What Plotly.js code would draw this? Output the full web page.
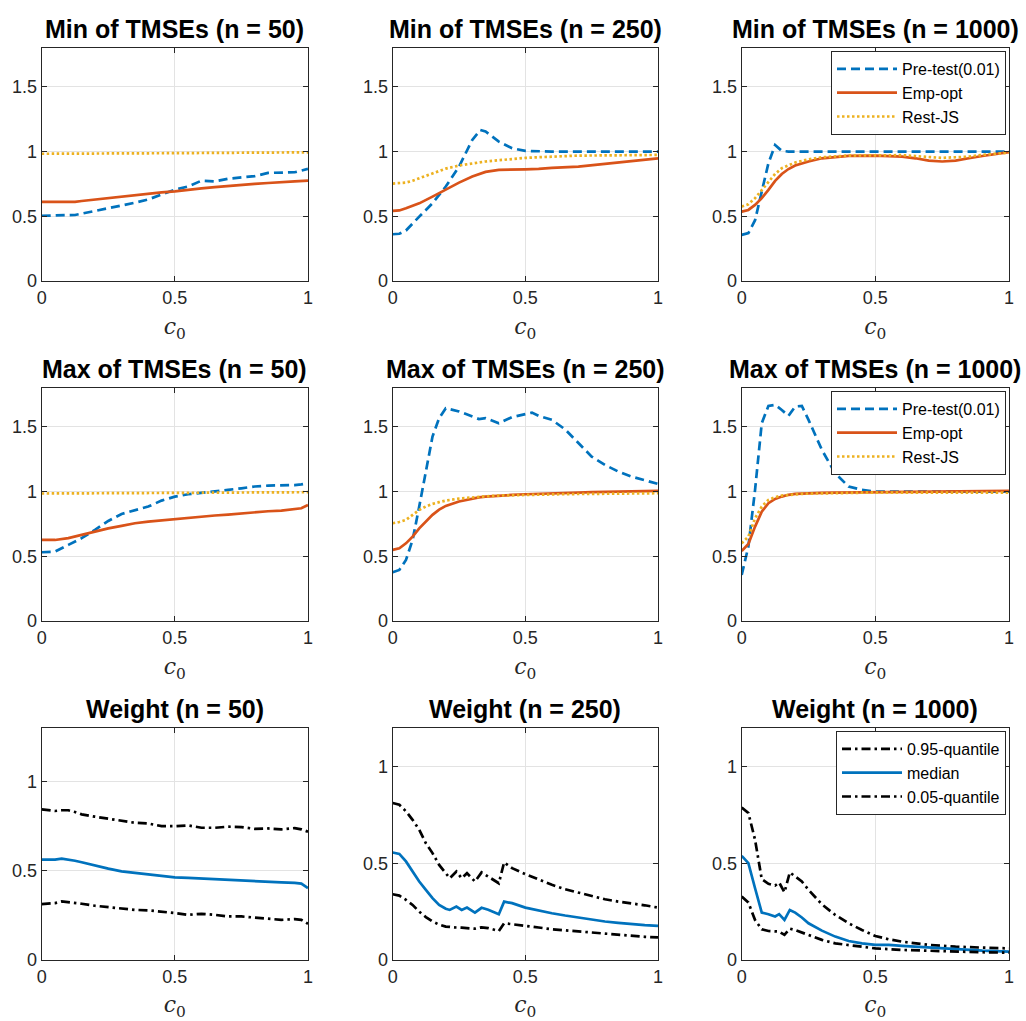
<!DOCTYPE html>
<html>
<head>
<meta charset="utf-8">
<script src="https://cdn.plot.ly/plotly-3.0.1.min.js"></script>
<style>html,body{margin:0;padding:0;background:#fff;}#chart{width:1026px;height:1021px;}</style>
</head>
<body>
<div id="chart"></div>
<script>
// ---------- Min of TMSEs ----------
const minN50_c0 = [0,0.05,0.1,0.125,0.15,0.2,0.25,0.3,0.35,0.4,0.45,0.5,0.55,0.6,0.65,0.7,0.75,0.8,0.85,0.9,0.95,1];
const minN50_pretest = [0.504,0.505,0.508,0.51,0.52,0.54,0.563,0.585,0.605,0.63,0.667,0.705,0.73,0.775,0.77,0.79,0.80,0.81,0.835,0.84,0.84,0.866];
const minN50_empopt = [0.612,0.612,0.612,0.612,0.618,0.63,0.641,0.652,0.665,0.678,0.685,0.692,0.705,0.715,0.725,0.735,0.744,0.75,0.757,0.765,0.77,0.775];
const minN50_restjs = [0.983,0.983,0.984,0.984,0.984,0.985,0.985,0.986,0.986,0.987,0.987,0.988,0.988,0.989,0.989,0.990,0.990,0.991,0.992,0.992,0.993,0.994];

const minN250_c0 = [0,0.025,0.05,0.075,0.1,0.15,0.2,0.25,0.3,0.33,0.35,0.4,0.45,0.5,0.55,0.6,0.7,0.8,0.9,1];
const minN250_pretest = [0.361,0.365,0.39,0.44,0.497,0.60,0.73,0.884,1.09,1.167,1.155,1.077,1.026,1.005,1.0,1.0,1.0,1.0,1.0,1.0];
const minN250_empopt = [0.541,0.545,0.562,0.58,0.60,0.652,0.709,0.76,0.807,0.83,0.843,0.858,0.863,0.863,0.866,0.874,0.884,0.905,0.93,0.948];
const minN250_restjs = [0.753,0.755,0.76,0.775,0.794,0.832,0.868,0.892,0.91,0.918,0.923,0.933,0.943,0.951,0.956,0.961,0.969,0.97,0.972,0.974];

const minN1000_c0 = [0,0.025,0.05,0.075,0.1,0.125,0.15,0.175,0.2,0.25,0.3,0.4,0.5,0.6,0.65,0.7,0.75,0.8,0.85,0.9,1];
const minN1000_pretest = [0.356,0.37,0.47,0.68,0.91,1.05,1.005,1.0,1.0,1.0,1.0,1.0,1.0,1.0,1.0,1.0,1.0,1.0,1.0,1.0,1.0];
const minN1000_empopt = [0.536,0.549,0.588,0.64,0.704,0.773,0.827,0.865,0.892,0.923,0.948,0.966,0.969,0.961,0.948,0.93,0.923,0.93,0.948,0.966,0.995];
const minN1000_restjs = [0.575,0.593,0.64,0.704,0.768,0.827,0.871,0.895,0.915,0.94,0.956,0.969,0.972,0.972,0.965,0.956,0.951,0.956,0.961,0.974,0.992];

// ---------- Max of TMSEs ----------
const maxN50_c0 = [0,0.05,0.1,0.15,0.2,0.25,0.3,0.35,0.4,0.45,0.5,0.55,0.6,0.65,0.7,0.75,0.8,0.85,0.9,0.95,0.975,1];
const maxN50_pretest = [0.531,0.536,0.588,0.64,0.704,0.773,0.827,0.858,0.884,0.93,0.961,0.979,0.992,1.0,1.013,1.025,1.039,1.046,1.046,1.05,1.055,1.064];
const maxN50_empopt = [0.626,0.626,0.64,0.665,0.69,0.716,0.735,0.755,0.768,0.778,0.789,0.798,0.807,0.815,0.822,0.832,0.843,0.848,0.853,0.866,0.871,0.897];
const maxN50_restjs = [0.985,0.985,0.986,0.986,0.987,0.987,0.988,0.988,0.989,0.989,0.990,0.990,0.991,0.991,0.992,0.992,0.993,0.993,0.994,0.994,0.995,0.995];

const maxN250_c0 = [0,0.025,0.05,0.075,0.1,0.125,0.15,0.175,0.2,0.25,0.3,0.325,0.35,0.4,0.45,0.5,0.525,0.55,0.6,0.65,0.7,0.75,0.8,0.85,0.9,0.95,1];
const maxN250_pretest = [0.376,0.394,0.472,0.626,0.884,1.14,1.425,1.567,1.644,1.619,1.58,1.56,1.567,1.528,1.575,1.60,1.61,1.585,1.554,1.48,1.374,1.27,1.206,1.155,1.116,1.09,1.059];
const maxN250_empopt = [0.549,0.562,0.60,0.652,0.716,0.77,0.82,0.86,0.889,0.923,0.948,0.955,0.961,0.969,0.974,0.979,0.98,0.982,0.985,0.988,0.992,0.995,0.997,0.998,1.0,1.002,1.005];
const maxN250_restjs = [0.755,0.765,0.781,0.82,0.858,0.885,0.905,0.918,0.93,0.946,0.956,0.96,0.963,0.969,0.972,0.974,0.975,0.976,0.979,0.98,0.981,0.982,0.982,0.983,0.984,0.985,0.987];

const maxN1000_c0 = [0,0.025,0.05,0.075,0.1,0.125,0.15,0.175,0.2,0.225,0.25,0.3,0.35,0.4,0.45,0.5,0.6,0.7,0.8,0.9,1];
const maxN1000_pretest = [0.356,0.575,1.013,1.528,1.662,1.67,1.63,1.585,1.657,1.662,1.554,1.322,1.14,1.039,1.013,1.0,1.0,1.0,1.0,1.0,1.0];
const maxN1000_empopt = [0.541,0.595,0.729,0.845,0.91,0.943,0.961,0.975,0.982,0.985,0.987,0.99,0.992,0.993,0.994,0.995,0.997,0.998,1.0,1.002,1.005];
const maxN1000_restjs = [0.60,0.652,0.794,0.884,0.936,0.956,0.969,0.975,0.979,0.982,0.984,0.987,0.989,0.99,0.991,0.992,0.992,0.992,0.992,0.992,0.992];

// ---------- Weight ----------
const wN50_c0 = [0,0.05,0.075,0.1,0.125,0.15,0.2,0.25,0.3,0.35,0.4,0.45,0.5,0.55,0.6,0.65,0.7,0.75,0.8,0.85,0.9,0.95,0.975,1];
const wN50_q95 = [0.844,0.835,0.839,0.839,0.829,0.816,0.803,0.792,0.784,0.769,0.765,0.75,0.75,0.754,0.741,0.741,0.747,0.745,0.735,0.737,0.732,0.739,0.732,0.719];
const wN50_median = [0.563,0.563,0.568,0.563,0.556,0.548,0.529,0.512,0.497,0.488,0.478,0.469,0.463,0.46,0.456,0.452,0.447,0.445,0.441,0.437,0.435,0.432,0.428,0.403];
const wN50_q05 = [0.313,0.319,0.328,0.325,0.32,0.315,0.304,0.296,0.287,0.281,0.278,0.272,0.263,0.253,0.259,0.253,0.244,0.244,0.238,0.231,0.225,0.229,0.225,0.203];

const wN250_c0 = [0,0.025,0.05,0.075,0.1,0.125,0.15,0.175,0.2,0.215,0.24,0.26,0.28,0.31,0.335,0.36,0.4,0.42,0.45,0.5,0.55,0.6,0.65,0.7,0.75,0.8,0.85,0.9,0.95,1];
const wN250_q95 = [0.812,0.803,0.769,0.725,0.674,0.604,0.553,0.492,0.449,0.423,0.458,0.423,0.449,0.406,0.453,0.432,0.397,0.505,0.475,0.444,0.415,0.389,0.366,0.349,0.332,0.314,0.302,0.294,0.283,0.271];
const wN250_median = [0.556,0.549,0.51,0.458,0.406,0.363,0.32,0.285,0.265,0.259,0.276,0.259,0.271,0.245,0.27,0.26,0.237,0.302,0.294,0.271,0.255,0.242,0.23,0.219,0.209,0.199,0.192,0.185,0.18,0.176];
const wN250_q05 = [0.34,0.333,0.311,0.285,0.25,0.222,0.199,0.183,0.173,0.17,0.168,0.167,0.166,0.162,0.169,0.165,0.15,0.19,0.185,0.178,0.168,0.159,0.153,0.147,0.141,0.135,0.13,0.124,0.12,0.117];

const wN1000_c0 = [0,0.025,0.05,0.075,0.1,0.125,0.14,0.16,0.18,0.2,0.225,0.25,0.3,0.35,0.4,0.45,0.5,0.55,0.6,0.7,0.8,0.9,1];
const wN1000_q95 = [0.789,0.76,0.622,0.418,0.394,0.385,0.401,0.35,0.453,0.43,0.406,0.363,0.288,0.233,0.19,0.155,0.124,0.107,0.095,0.078,0.069,0.064,0.06];
const wN1000_median = [0.539,0.501,0.371,0.245,0.237,0.225,0.237,0.207,0.259,0.245,0.22,0.19,0.152,0.121,0.098,0.086,0.078,0.078,0.073,0.064,0.055,0.048,0.043];
const wN1000_q05 = [0.328,0.297,0.207,0.159,0.15,0.148,0.147,0.13,0.162,0.155,0.143,0.13,0.104,0.086,0.078,0.07,0.06,0.056,0.052,0.048,0.043,0.04,0.038];

// ---------- labels ----------
const panelTitles = [
  'Min of TMSEs (n = 50)','Min of TMSEs (n = 250)','Min of TMSEs (n = 1000)',
  'Max of TMSEs (n = 50)','Max of TMSEs (n = 250)','Max of TMSEs (n = 1000)',
  'Weight (n = 50)','Weight (n = 250)','Weight (n = 1000)'];
const tmseNames = ['Pre-test(0.01)','Emp-opt','Rest-JS'];
const weightNames = ['0.95-quantile','median','0.05-quantile'];
const xTicks = [0,0.5,1];
const xTickText = ['0','0.5','1'];
const yTicksTmse = [0,0.5,1,1.5];
const yTickTextTmse = ['0','0.5','1','1.5'];
const yTicksWeight = [0,0.5,1];
const yTickTextWeight = ['0','0.5','1'];
const yRanges = [[0,1.8],[0,1.8],[0,1.8],[0,1.8],[0,1.8],[0,1.8],[0,1.3],[0,1.2],[0,1.2]];

// ---------- styling ----------
const W = 1026, H = 1021;
const colPx = [[41.7,308],[392.7,658],[741.7,1009]];
const rowPx = [[48,281],[388,621],[728,960]];
const blue = '#0072BD', orange = '#D95319', yellow = '#EDB120';
const axisColor = '#262626';
const LW = 2.7;

const tmsePanels = [
  [minN50_c0, minN50_pretest, minN50_empopt, minN50_restjs],
  [minN250_c0, minN250_pretest, minN250_empopt, minN250_restjs],
  [minN1000_c0, minN1000_pretest, minN1000_empopt, minN1000_restjs],
  [maxN50_c0, maxN50_pretest, maxN50_empopt, maxN50_restjs],
  [maxN250_c0, maxN250_pretest, maxN250_empopt, maxN250_restjs],
  [maxN1000_c0, maxN1000_pretest, maxN1000_empopt, maxN1000_restjs]
];
const weightPanels = [
  [wN50_c0, wN50_q95, wN50_median, wN50_q05],
  [wN250_c0, wN250_q95, wN250_median, wN250_q05],
  [wN1000_c0, wN1000_q95, wN1000_median, wN1000_q05]
];

const traces = [];
const layout = {
  width: W, height: H,
  margin: {l:0, r:0, t:0, b:0},
  paper_bgcolor: '#ffffff', plot_bgcolor: '#ffffff',
  font: {family: 'Liberation Sans, Arial, sans-serif', color: axisColor, size: 18},
  showlegend: true,
  annotations: []
};

function axisId(i){ return i === 0 ? '' : String(i+1); }

for (let i = 0; i < 9; i++) {
  const r = Math.floor(i/3), c = i % 3;
  const id = axisId(i);
  const xa = 'x' + id, ya = 'y' + id;
  const common = {
    showline: true, mirror: 'ticks', linecolor: axisColor, linewidth: 1,
    ticks: 'inside', ticklen: 5, tickcolor: axisColor, tickwidth: 1,
    showgrid: true, gridcolor: '#e3e3e3', gridwidth: 1, zeroline: false,
    tickfont: {size: 18, color: axisColor, family: 'Liberation Sans, Arial, sans-serif'},
    fixedrange: true
  };
  layout['xaxis' + id] = Object.assign({}, common, {
    domain: [colPx[c][0]/W, colPx[c][1]/W],
    range: [0,1], tickvals: xTicks, ticktext: xTickText,
    anchor: ya,
    title: {text: '<i>c</i><sub>0</sub>', font: {family: 'DejaVu Serif, Liberation Serif, serif', size: 22, color: axisColor}, standoff: 12}
  });
  layout['yaxis' + id] = Object.assign({}, common, {
    domain: [1 - rowPx[r][1]/H, 1 - rowPx[r][0]/H],
    range: yRanges[i], tickvals: (r < 2 ? yTicksTmse : yTicksWeight),
    ticktext: (r < 2 ? yTickTextTmse : yTickTextWeight),
    anchor: xa
  });
  layout.annotations.push({
    text: '<b>' + panelTitles[i] + '</b>',
    xref: 'paper', yref: 'paper',
    x: (colPx[c][0] + colPx[c][1]) / 2 / W,
    y: 1 - rowPx[r][0]/H, yanchor: 'bottom', yshift: 3,
    xanchor: 'center', showarrow: false,
    font: {size: 25, color: '#000000', family: 'Liberation Sans, Arial, sans-serif'}
  });

  const legendName = c === 2 ? (r === 0 ? 'legend' : 'legend' + (r+1)) : 'legend';
  const showLeg = c === 2;

  if (r < 2) {
    const p = tmsePanels[i];
    const styles = [
      {color: blue, dash: '9px,5px'},
      {color: orange, dash: 'solid'},
      {color: yellow, dash: '2.5px,2.5px'}
    ];
    for (let s = 0; s < 3; s++) {
      traces.push({
        x: p[0], y: p[s+1], xaxis: xa, yaxis: ya, type: 'scatter', mode: 'lines',
        name: tmseNames[s], line: {color: styles[s].color, width: LW, dash: styles[s].dash},
        showlegend: showLeg, legend: legendName, hoverinfo: 'skip'
      });
    }
  } else {
    const p = weightPanels[c];
    const styles = [
      {color: '#000000', dash: '9px,4px,2.5px,4px'},
      {color: blue, dash: 'solid'},
      {color: '#000000', dash: '9px,4px,2.5px,4px'}
    ];
    for (let s = 0; s < 3; s++) {
      traces.push({
        x: p[0], y: p[s+1], xaxis: xa, yaxis: ya, type: 'scatter', mode: 'lines',
        name: weightNames[s], line: {color: styles[s].color, width: LW, dash: styles[s].dash},
        showlegend: showLeg, legend: legendName, hoverinfo: 'skip'
      });
    }
  }
}

const legendCommon = {
  xanchor: 'right', yanchor: 'top', xref: 'paper', yref: 'paper',
  bgcolor: '#ffffff', bordercolor: axisColor, borderwidth: 1,
  font: {size: 16, color: '#000000', family: 'Liberation Sans, Arial, sans-serif'},
  itemwidth: 60, tracegroupgap: 0
};
layout.legend = Object.assign({}, legendCommon, {x: 1006/W, y: 1 - 51/H});
layout.legend2 = Object.assign({}, legendCommon, {x: 1006/W, y: 1 - 391/H});
layout.legend3 = Object.assign({}, legendCommon, {x: 1006/W, y: 1 - 731/H});

Plotly.newPlot('chart', traces, layout, {displayModeBar: false, staticPlot: true});
</script>
</body>
</html>
